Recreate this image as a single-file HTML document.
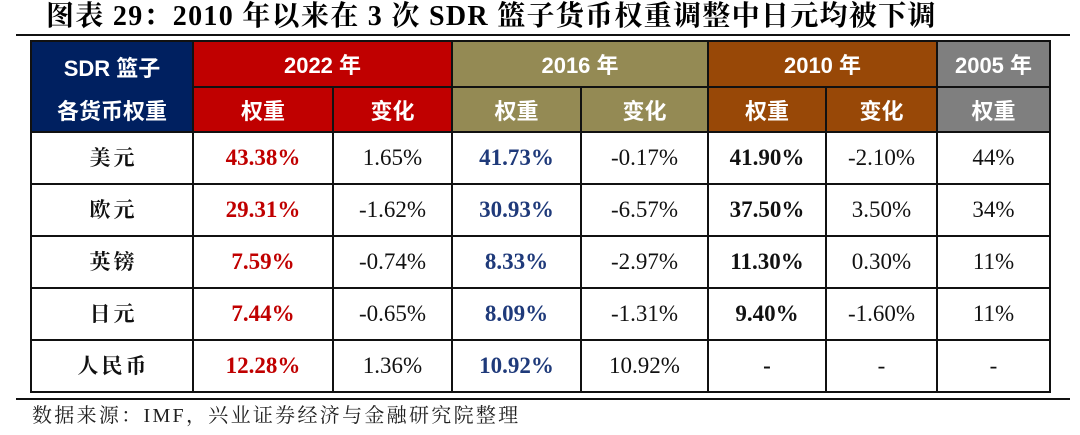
<!DOCTYPE html>
<html>
<head>
<meta charset="utf-8">
<style>
  html,body{margin:0;padding:0;}
  body{width:1080px;height:435px;background:#fff;position:relative;overflow:hidden;}
  .c{position:absolute;display:flex;align-items:center;justify-content:center;white-space:nowrap;}
  .h{color:#fff;font-family:"Liberation Sans","Noto Sans CJK SC",sans-serif;font-weight:700;font-size:22px;}
  .n{font-family:"Liberation Serif","Noto Serif CJK SC",serif;font-size:23px;color:#111;}
  .b{font-weight:700;}
  .red{color:#C00000;}
  .blue{color:#1F3A7A;}
  .name{font-family:"Liberation Serif","Noto Serif CJK SC",serif;font-weight:700;font-size:21px;letter-spacing:3px;color:#111;}
  .ln{position:absolute;background:#111;}
  .title{position:absolute;left:46px;top:0;height:34px;line-height:34px;font-family:"Liberation Serif","Noto Serif CJK SC",serif;font-weight:700;font-size:28px;color:#000;white-space:nowrap;letter-spacing:1.3px;}
  .foot{position:absolute;left:32px;top:401px;height:30px;line-height:30px;font-family:"Liberation Serif","Noto Serif CJK SC",serif;font-size:20px;color:#222;white-space:nowrap;letter-spacing:2.3px;}
</style>
</head>
<body>
<div class="title">图表 29：2010 年以来在 3 次 SDR 篮子货币权重调整中日元均被下调</div>
<div class="ln" style="left:16px;top:34px;width:1054px;height:2px;"></div>

<!-- header backgrounds -->
<div class="c" style="left:31px;top:41px;width:162px;height:91px;background:#002060;"></div>
<div class="c" style="left:193px;top:41px;width:259px;height:91px;background:#C00000;"></div>
<div class="c" style="left:452px;top:41px;width:256px;height:91px;background:#948A54;"></div>
<div class="c" style="left:708px;top:41px;width:229px;height:91px;background:#984807;"></div>
<div class="c" style="left:937px;top:41px;width:113px;height:91px;background:#7F7F7F;"></div>

<!-- header text -->
<div class="c h" style="left:31px;top:44px;width:162px;height:46px;">SDR 篮子</div>
<div class="c h" style="left:31px;top:87px;width:162px;height:45px;">各货币权重</div>
<div class="c h" style="left:193px;top:41px;width:259px;height:46px;">2022 年</div>
<div class="c h" style="left:452px;top:41px;width:256px;height:46px;">2016 年</div>
<div class="c h" style="left:708px;top:41px;width:229px;height:46px;">2010 年</div>
<div class="c h" style="left:937px;top:41px;width:113px;height:46px;">2005 年</div>

<div class="c h" style="left:193px;top:87px;width:140px;height:45px;">权重</div>
<div class="c h" style="left:333px;top:87px;width:119px;height:45px;">变化</div>
<div class="c h" style="left:452px;top:87px;width:129px;height:45px;">权重</div>
<div class="c h" style="left:581px;top:87px;width:127px;height:45px;">变化</div>
<div class="c h" style="left:708px;top:87px;width:118px;height:45px;">权重</div>
<div class="c h" style="left:826px;top:87px;width:111px;height:45px;">变化</div>
<div class="c h" style="left:937px;top:87px;width:113px;height:45px;">权重</div>

<!-- row 1 -->
<div class="c name" style="left:31px;top:131px;width:165px;height:52px;">美元</div>
<div class="c n b red" style="left:193px;top:132px;width:140px;height:52px;">43.38%</div>
<div class="c n" style="left:333px;top:132px;width:119px;height:52px;">1.65%</div>
<div class="c n b blue" style="left:452px;top:132px;width:129px;height:52px;">41.73%</div>
<div class="c n" style="left:581px;top:132px;width:127px;height:52px;">-0.17%</div>
<div class="c n b" style="left:708px;top:132px;width:118px;height:52px;">41.90%</div>
<div class="c n" style="left:826px;top:132px;width:111px;height:52px;">-2.10%</div>
<div class="c n" style="left:937px;top:132px;width:113px;height:52px;">44%</div>

<!-- row 2 -->
<div class="c name" style="left:31px;top:183px;width:165px;height:52px;">欧元</div>
<div class="c n b red" style="left:193px;top:184px;width:140px;height:52px;">29.31%</div>
<div class="c n" style="left:333px;top:184px;width:119px;height:52px;">-1.62%</div>
<div class="c n b blue" style="left:452px;top:184px;width:129px;height:52px;">30.93%</div>
<div class="c n" style="left:581px;top:184px;width:127px;height:52px;">-6.57%</div>
<div class="c n b" style="left:708px;top:184px;width:118px;height:52px;">37.50%</div>
<div class="c n" style="left:826px;top:184px;width:111px;height:52px;">3.50%</div>
<div class="c n" style="left:937px;top:184px;width:113px;height:52px;">34%</div>

<!-- row 3 -->
<div class="c name" style="left:31px;top:235px;width:165px;height:52px;">英镑</div>
<div class="c n b red" style="left:193px;top:236px;width:140px;height:52px;">7.59%</div>
<div class="c n" style="left:333px;top:236px;width:119px;height:52px;">-0.74%</div>
<div class="c n b blue" style="left:452px;top:236px;width:129px;height:52px;">8.33%</div>
<div class="c n" style="left:581px;top:236px;width:127px;height:52px;">-2.97%</div>
<div class="c n b" style="left:708px;top:236px;width:118px;height:52px;">11.30%</div>
<div class="c n" style="left:826px;top:236px;width:111px;height:52px;">0.30%</div>
<div class="c n" style="left:937px;top:236px;width:113px;height:52px;">11%</div>

<!-- row 4 -->
<div class="c name" style="left:31px;top:287px;width:165px;height:52px;">日元</div>
<div class="c n b red" style="left:193px;top:288px;width:140px;height:52px;">7.44%</div>
<div class="c n" style="left:333px;top:288px;width:119px;height:52px;">-0.65%</div>
<div class="c n b blue" style="left:452px;top:288px;width:129px;height:52px;">8.09%</div>
<div class="c n" style="left:581px;top:288px;width:127px;height:52px;">-1.31%</div>
<div class="c n b" style="left:708px;top:288px;width:118px;height:52px;">9.40%</div>
<div class="c n" style="left:826px;top:288px;width:111px;height:52px;">-1.60%</div>
<div class="c n" style="left:937px;top:288px;width:113px;height:52px;">11%</div>

<!-- row 5 -->
<div class="c name" style="left:31px;top:339px;width:165px;height:52px;">人民币</div>
<div class="c n b red" style="left:193px;top:340px;width:140px;height:52px;">12.28%</div>
<div class="c n" style="left:333px;top:340px;width:119px;height:52px;">1.36%</div>
<div class="c n b blue" style="left:452px;top:340px;width:129px;height:52px;">10.92%</div>
<div class="c n" style="left:581px;top:340px;width:127px;height:52px;">10.92%</div>
<div class="c n b" style="left:708px;top:340px;width:118px;height:52px;">-</div>
<div class="c n" style="left:826px;top:340px;width:111px;height:52px;">-</div>
<div class="c n" style="left:937px;top:340px;width:113px;height:52px;">-</div>

<!-- grid lines: horizontal -->
<div class="ln" style="left:30px;top:40px;width:1021px;height:2px;"></div>
<div class="ln" style="left:192px;top:86px;width:859px;height:2px;"></div>
<div class="ln" style="left:30px;top:131px;width:1021px;height:2px;"></div>
<div class="ln" style="left:30px;top:183px;width:1021px;height:2px;"></div>
<div class="ln" style="left:30px;top:235px;width:1021px;height:2px;"></div>
<div class="ln" style="left:30px;top:287px;width:1021px;height:2px;"></div>
<div class="ln" style="left:30px;top:339px;width:1021px;height:2px;"></div>
<div class="ln" style="left:30px;top:391px;width:1021px;height:2px;"></div>

<!-- grid lines: vertical -->
<div class="ln" style="left:30px;top:40px;width:2px;height:353px;"></div>
<div class="ln" style="left:192px;top:40px;width:2px;height:353px;"></div>
<div class="ln" style="left:332px;top:86px;width:2px;height:307px;"></div>
<div class="ln" style="left:451px;top:40px;width:2px;height:353px;"></div>
<div class="ln" style="left:580px;top:86px;width:2px;height:307px;"></div>
<div class="ln" style="left:707px;top:40px;width:2px;height:353px;"></div>
<div class="ln" style="left:825px;top:86px;width:2px;height:307px;"></div>
<div class="ln" style="left:936px;top:40px;width:2px;height:353px;"></div>
<div class="ln" style="left:1049px;top:40px;width:2px;height:353px;"></div>

<div class="ln" style="left:16px;top:398px;width:1054px;height:2px;"></div>
<div class="foot">数据来源：IMF，兴业证券经济与金融研究院整理</div>
</body>
</html>
